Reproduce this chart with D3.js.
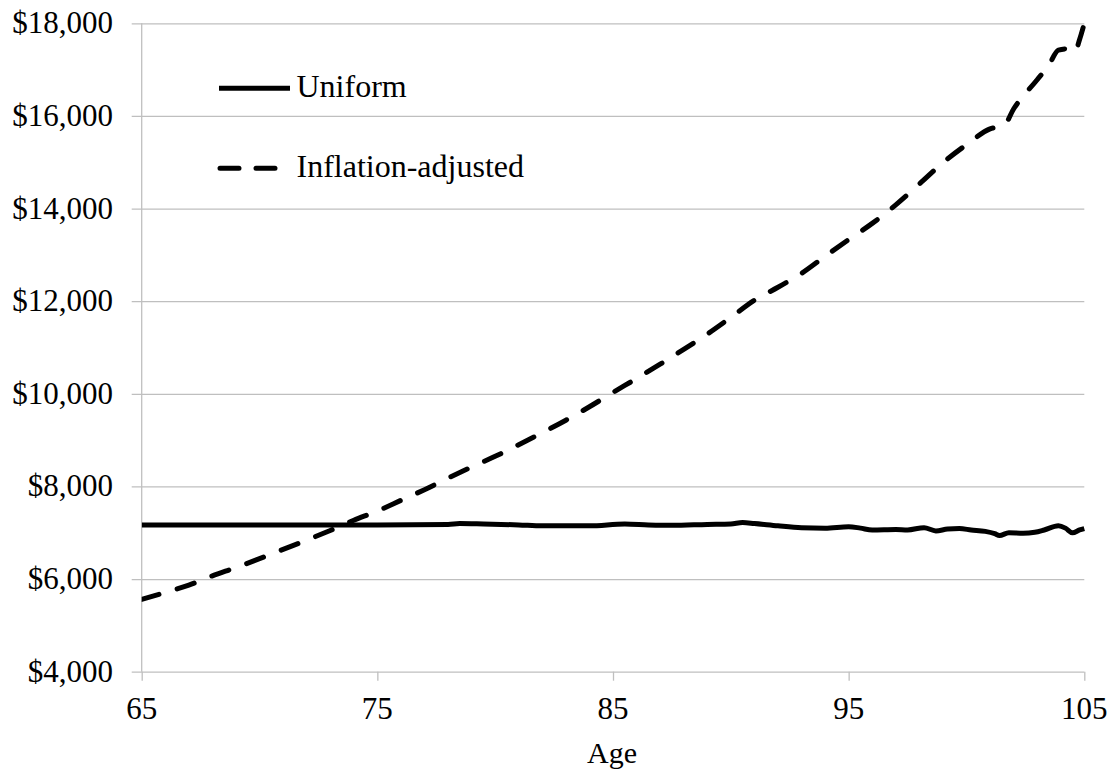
<!DOCTYPE html>
<html>
<head>
<meta charset="utf-8">
<script src="https://cdn.jsdelivr.net/npm/d3@7"></script>
<style>
  html, body { margin: 0; padding: 0; background: #fff; }
  svg { display: block; }
  text { font-family: "Liberation Serif", "Times New Roman", serif; fill: #000; }
</style>
</head>
<body>
<svg id="chart" width="1112" height="771"></svg>
<script>
// ---- Data ----
const xTicks = [65, 75, 85, 95, 105];
const yTicks = [4000, 6000, 8000, 10000, 12000, 14000, 16000, 18000];
const xLabel = "Age";
const seriesNames = ["Uniform", "Inflation-adjusted"];

const uniformAges = [65, 70, 75, 78, 78.5, 79.5, 81, 82, 84, 85.5, 86.5, 87.5, 89, 90, 90.5, 91, 92, 93, 94, 95, 95.5, 96, 97, 97.5, 98.2, 98.7, 99.2, 99.7, 100.2, 100.8, 101.2, 101.4, 101.8, 102.4, 102.9, 103.3, 103.9, 104.2, 104.5, 104.8, 105];
const uniformValues = [7170, 7170, 7170, 7180, 7200, 7190, 7170, 7150, 7150, 7190, 7170, 7160, 7180, 7190, 7220, 7200, 7150, 7110, 7100, 7130, 7100, 7060, 7070, 7060, 7110, 7040, 7080, 7090, 7060, 7030, 6980, 6940, 7000, 6990, 7010, 7060, 7150, 7100, 7000, 7060, 7090];

const inflAges = [65, 66, 67, 68, 69, 70, 71, 72, 73, 74, 75, 76, 77, 78, 79, 80, 81, 82, 83, 84, 85, 86, 87, 88, 89, 90, 91, 92, 93, 94, 95, 96, 97, 98, 99, 100, 101, 101.6, 102, 103, 103.5, 103.9, 104.3, 104.6, 104.8, 105];
const inflValues = [5560, 5710, 5870, 6070, 6250, 6440, 6640, 6840, 7050, 7270, 7470, 7700, 7930, 8180, 8420, 8650, 8900, 9160, 9430, 9720, 10030, 10330, 10640, 10960, 11290, 11650, 12020, 12300, 12600, 12970, 13330, 13680, 14080, 14530, 14990, 15380, 15720, 15800, 16150, 16780, 17100, 17420, 17450, 17380, 17650, 18000];

// ---- Layout ----
const svg = d3.select("#chart");
const x = d3.scaleLinear().domain([65, 105]).range([141.7, 1084.3]);
const y = d3.scaleLinear().domain([4000, 18000]).range([671.7, 23.3]);
const gridColor = "#bfbfbf";

// Horizontal gridlines (with left stubs)
const yAxis = d3.axisLeft(y).tickValues(yTicks).tickSize(-(1084.3 - 141.7)).tickFormat("");
const gy = svg.append("g").attr("transform", "translate(141.7,0)").call(yAxis);
gy.select(".domain").remove();
gy.selectAll(".tick line").attr("stroke", gridColor).attr("stroke-width", 1.3).attr("x1", -10);

// Vertical axis line
svg.append("line")
  .attr("x1", x(65)).attr("x2", x(65))
  .attr("y1", y(18000)).attr("y2", y(4000))
  .attr("stroke", gridColor).attr("stroke-width", 1.3);

// X axis ticks
const xAxis = d3.axisBottom(x).tickValues(xTicks).tickSize(9).tickFormat("");
const gx = svg.append("g").attr("transform", `translate(0,${y(4000)})`).call(xAxis);
gx.select(".domain").remove();
gx.selectAll(".tick line").attr("stroke", gridColor).attr("stroke-width", 1.3);

// Y tick labels
const fmt = d3.format(",");
svg.append("g").selectAll("text").data(yTicks).join("text")
  .attr("x", 113).attr("y", d => y(d) + 10)
  .attr("text-anchor", "end")
  .style("font-size", "31px")
  .text(d => "$" + fmt(d));

// X tick labels
svg.append("g").selectAll("text").data(xTicks).join("text")
  .attr("x", d => x(d)).attr("y", 719)
  .attr("text-anchor", "middle")
  .style("font-size", "31px")
  .text(d => d);

// X axis title
svg.append("text")
  .attr("x", (x(65) + x(105)) / 2 - 1).attr("y", 763)
  .attr("text-anchor", "middle")
  .style("font-size", "30px")
  .text(xLabel);

// Lines
const clipId = "plotclip";
svg.append("clipPath").attr("id", clipId).append("rect")
  .attr("x", x(65)).attr("y", 0).attr("width", x(105) - x(65) + 4).attr("height", 771);

const line = d3.line().x(d => x(d[0])).y(d => y(d[1])).curve(d3.curveMonotoneX);

svg.append("path")
  .datum(inflAges.map((a, i) => [a, inflValues[i]]))
  .attr("d", line)
  .attr("fill", "none").attr("stroke", "#000").attr("stroke-width", 5)
  .attr("stroke-dasharray", "18,19").attr("stroke-linecap", "round")
  .attr("clip-path", `url(#${clipId})`);

svg.append("path")
  .datum(uniformAges.map((a, i) => [a, uniformValues[i]]))
  .attr("d", line)
  .attr("fill", "none").attr("stroke", "#000").attr("stroke-width", 5)
  .attr("stroke-linejoin", "round")
  .attr("clip-path", `url(#${clipId})`);

// Legend
const lg = svg.append("g");
lg.append("line").attr("x1", 219).attr("x2", 290).attr("y1", 88.3).attr("y2", 88.3)
  .attr("stroke", "#000").attr("stroke-width", 5);
lg.append("text").attr("x", 296.5).attr("y", 96.5).style("font-size", "32px").text(seriesNames[0]);
lg.append("line").attr("x1", 220).attr("x2", 278).attr("y1", 168.3).attr("y2", 168.3)
  .attr("stroke", "#000").attr("stroke-width", 5)
  .attr("stroke-dasharray", "19,17").attr("stroke-linecap", "round");
lg.append("text").attr("x", 296.5).attr("y", 176.7).style("font-size", "32px").text(seriesNames[1]);
</script>
</body>
</html>
